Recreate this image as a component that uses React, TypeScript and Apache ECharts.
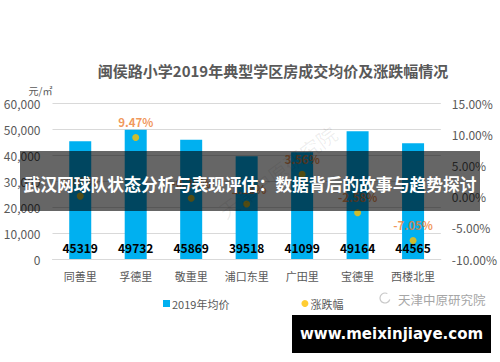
import React, { useEffect, useRef } from "react";
import * as echarts from "echarts";

const title = "闽侯路小学2019年典型学区房成交均价及涨跌幅情况";
const categories = ["同善里", "孚德里", "敬重里", "浦口东里", "广田里", "宝德里", "西楼北里"];
const avgPrice = [45319, 49732, 45869, 39518, 41099, 49164, 44565];
const changePct = [0.08, 9.47, -0.26, -1.18, 3.56, -2.58, -7.05];
const leftTicks = { min: 0, max: 60000, interval: 10000 };
const rightTicks = { min: -10, max: 15, interval: 5 };
const bannerText = "武汉网球队状态分析与表现评估：数据背后的故事与趋势探讨";
const siteText = "www.meixinjiaye.com";
const watermark = "天津中原研究院";

const FONT = '"Noto Sans CJK SC", "Noto Sans", sans-serif';

export default function App() {
  const ref = useRef<HTMLDivElement>(null);
  useEffect(() => {
    document.body.style.margin = "0";
    const chart = echarts.init(ref.current!, null, { renderer: "svg" });
    chart.setOption({
      animation: false,
      backgroundColor: "#ffffff",
      textStyle: { fontFamily: FONT },
      title: {
        text: title,
        left: 268,
        textAlign: "center",
        top: 58,
        textStyle: { fontSize: 15, fontWeight: "bold", color: "#595959", fontFamily: FONT },
      },
      legend: {
        left: 158,
        top: 293,
        itemWidth: 7,
        itemHeight: 7,
        itemGap: 72,
        textStyle: { fontSize: 11, color: "#595959", fontFamily: FONT, padding: [0, 0, 0, -3] },
        data: [
          { name: "2019年均价", icon: "rect" },
          { name: "涨跌幅", icon: "circle" },
        ],
      },
      grid: { left: 52.5, right: 55.5, top: 103, bottom: 103 },
      xAxis: {
        type: "category",
        data: categories,
        axisLine: { lineStyle: { color: "#d9d9d9" } },
        axisTick: { show: false },
        axisLabel: { color: "#595959", fontSize: 11, margin: 11, interval: 0, fontFamily: FONT },
      },
      yAxis: [
        {
          type: "value",
          name: "元/㎡",
          nameLocation: "end",
          nameGap: 8,
          nameTextStyle: { color: "#595959", fontSize: 10, align: "right" },
          min: leftTicks.min,
          max: leftTicks.max,
          interval: leftTicks.interval,
          axisLine: { show: false },
          axisTick: { show: false },
          axisLabel: { color: "#595959", fontSize: 12, margin: 12 },
          splitLine: { lineStyle: { color: "#d9d9d9" } },
        },
        {
          type: "value",
          min: rightTicks.min,
          max: rightTicks.max,
          interval: rightTicks.interval,
          axisLine: { show: false },
          axisTick: { show: false },
          splitLine: { show: false },
          axisLabel: {
            color: "#595959",
            fontSize: 12,
            margin: 11,
            formatter: (v: number) => `${v.toFixed(2)}%`,
          },
        },
      ],
      series: [
        {
          name: "2019年均价",
          type: "bar",
          data: avgPrice,
          barWidth: 22,
          itemStyle: { color: "#00B0F0" },
          label: {
            show: true,
            position: "insideBottom",
            distance: 6,
            color: "#000000",
            fontWeight: "bold",
            fontSize: 12,
          },
        },
        {
          name: "涨跌幅",
          type: "scatter",
          yAxisIndex: 1,
          data: changePct,
          symbol: "circle",
          symbolSize: 7,
          itemStyle: { color: "#FFC000" },
          label: {
            show: true,
            position: "top",
            distance: 6,
            color: "#ED7D31",
            fontWeight: "bold",
            fontSize: 11.5,
            formatter: (p: any) => `${Number(p.value).toFixed(2)}%`,
          },
        },
      ],
      graphic: [
        {
          type: "text",
          x: 215,
          y: 205,
          rotation: Math.PI / 5,
          style: { text: watermark, fill: "rgba(0,0,0,0.07)", fontSize: 20, fontFamily: FONT },
          z: 5,
        },
        {
          type: "rect",
          shape: { x: 20, y: 151, width: 460, height: 60 },
          style: { fill: "rgba(0,0,0,0.6)" },
          z: 10,
        },
        {
          type: "text",
          x: 250,
          y: 184,
          style: {
            text: bannerText,
            fill: "#ffffff",
            fontSize: 16.8,
            fontWeight: "bold",
            fontFamily: FONT,
            align: "center",
            verticalAlign: "middle",
          },
          z: 11,
        },
        {
          type: "arc",
          shape: { cx: 385, cy: 298, r: 5, startAngle: 0.3, endAngle: 5.2 },
          style: { stroke: "#c8c8c8", lineWidth: 1.2, fill: null },
          z: 10,
        },
        {
          type: "text",
          x: 398,
          y: 299,
          style: {
            text: watermark,
            fill: "#a6a6a6",
            fontSize: 12.5,
            fontFamily: FONT,
            verticalAlign: "middle",
          },
          z: 10,
        },
        {
          type: "rect",
          shape: { x: 292, y: 315, width: 199, height: 38 },
          style: { fill: "#000000" },
          z: 10,
        },
        {
          type: "text",
          x: 391.5,
          y: 334,
          style: {
            text: siteText,
            fill: "#ffffff",
            fontSize: 15,
            fontWeight: "bold",
            fontFamily: "DejaVu Sans, sans-serif",
            align: "center",
            verticalAlign: "middle",
          },
          z: 11,
        },
      ],
    });
    return () => chart.dispose();
  }, []);
  return <div ref={ref} style={{ width: 500, height: 362 }} />;
}
